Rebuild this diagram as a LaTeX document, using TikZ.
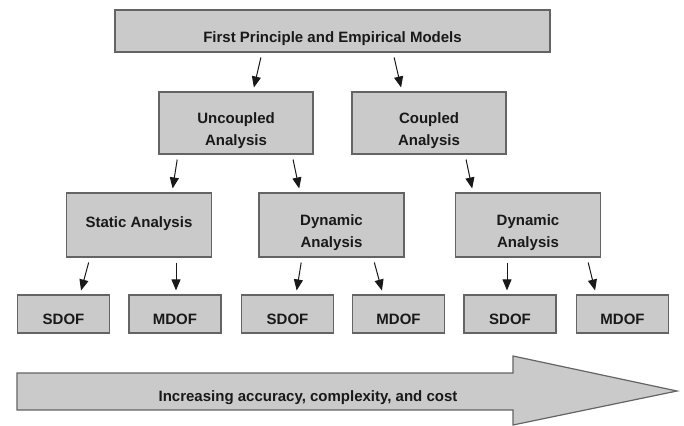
\documentclass[tikz,border=0pt]{standalone}
\usepackage{fontspec}
\setmainfont{Liberation Sans}
\usetikzlibrary{arrows.meta}
\definecolor{boxgray}{RGB}{202,202,202}
\definecolor{edgegray}{RGB}{100,100,100}
\newcommand\boxtext[2]{\raisebox{#1}[\height][\depth]{\begin{tabular}{@{}c@{}}#2\end{tabular}}}

\begin{document}
\begin{tikzpicture}[x=1pt, y=-1pt,
		box/.style={draw=edgegray, fill=boxgray, line width=1.2pt, inner sep=0pt, align=center,
			font=\fontsize{15}{22}\selectfont\bfseries, text=black!90},
		topbox/.style={box, minimum width=435pt, minimum height=42pt},
		midbox/.style={box, minimum width=154pt, minimum height=62pt},
		anabox/.style={box, minimum width=145pt, minimum height=64pt},
		dofbox/.style={box, minimum width=92pt, minimum height=38pt},
		arr/.style={-{Triangle[width=9pt,length=11pt]}, line width=1pt, black!90, shorten <=5pt, shorten >=4pt}]
		%%%%% START %%%%%
		
		\useasboundingbox (0, 0) rectangle (684, 425);
		
		\node[topbox] (models) at (332.5, 31) {\boxtext{-7pt}{First Principle and Empirical Models}};
		
		\node[midbox] (uncoupled) at (236, 123) {\boxtext{-7pt}{Uncoupled\\Analysis}};
		\node[midbox] (coupled) at (429, 123) {\boxtext{-7pt}{Coupled\\Analysis}};
		
		\node[anabox] (static) at (139, 225) {\boxtext{2pt}{Static Analysis}};
		\node[anabox] (dynU) at (331.5, 225) {\boxtext{-7pt}{Dynamic\\Analysis}};
		\node[anabox] (dynC) at (528, 225) {\boxtext{-7pt}{Dynamic\\Analysis}};
		
		\node[dofbox] (sdofS) at (63.5, 314) {\boxtext{-6pt}{SDOF}};
		\node[dofbox] (mdofS) at (175, 314) {\boxtext{-6pt}{MDOF}};
		\node[dofbox] (sdofU) at (287.5, 314) {\boxtext{-6pt}{SDOF}};
		\node[dofbox] (mdofU) at (398.5, 314) {\boxtext{-6pt}{MDOF}};
		\node[dofbox] (sdofC) at (510, 314) {\boxtext{-6pt}{SDOF}};
		\node[dofbox] (mdofC) at (622.5, 314) {\boxtext{-6pt}{MDOF}};
		
		\draw[arr] ([xshift=-70.5pt]models.south) -- ([xshift=17pt]uncoupled.north);
		\draw[arr] ([xshift=60.5pt]models.south) -- ([xshift=-27pt]coupled.north);
		
		\draw[arr] ([xshift=-58pt]uncoupled.south) -- ([xshift=33pt]static.north);
		\draw[arr] ([xshift=56pt]uncoupled.south) -- ([xshift=-31.5pt]dynU.north);
		\draw[arr] ([xshift=36pt]coupled.south) -- ([xshift=-55pt]dynC.north);
		
		\draw[arr] ([xshift=-49pt]static.south) -- ([xshift=16.5pt]sdofS.north);
		\draw[arr] ([xshift=37pt]static.south) -- ([xshift=1pt]mdofS.north);
		\draw[arr] ([xshift=-29.5pt]dynU.south) -- ([xshift=8.5pt]sdofU.north);
		\draw[arr] ([xshift=41.5pt]dynU.south) -- ([xshift=-15.5pt]mdofU.north);
		\draw[arr] ([xshift=-21pt]dynC.south) -- ([xshift=-3pt]sdofC.north);
		\draw[arr] ([xshift=59pt]dynC.south) -- ([xshift=-26.5pt]mdofC.north);
		
		\draw[draw=edgegray, fill=boxgray, line width=1.2pt] (17, 373) -- (513, 373) -- (513, 356) -- (677, 391)
			-- (513, 425) -- (513, 410) -- (17, 410) -- cycle;
		\node[font=\fontsize{15}{18}\selectfont\bfseries, text=black!90] (trend) at (308, 398) {Increasing accuracy, complexity, and cost};
		
		%%%%% END %%%%%
\end{tikzpicture}
\end{document}
